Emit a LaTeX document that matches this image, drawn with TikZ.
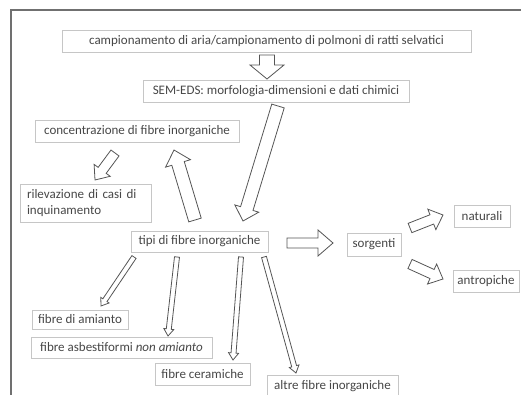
\documentclass[tikz,border=0pt]{standalone}
\usepackage{fontspec}
\setmainfont{Carlito}
\usetikzlibrary{calc}
\definecolor{txt}{HTML}{474747}
\definecolor{boxc}{HTML}{C6C6C6}
\definecolor{arrc}{HTML}{555555}
\definecolor{framec}{HTML}{707070}
\tikzset{
  box/.style={draw=boxc, line width=0.7pt, text=txt, inner sep=0pt,
    font=\fontsize{13}{16}\selectfont},
  arrowline/.style={draw=arrc, line width=0.8pt, line join=miter, fill=white},
}
% #1 start, #2 end, #3 shaft half width, #4 head half width, #5 head length
\newcommand\blockarr[5]{%
  \pgfpointdiff{\pgfpointanchor{#1}{center}}{\pgfpointanchor{#2}{center}}%
  \pgfgetlastxy\bdx\bdy
  \pgfmathsetmacro\barlen{veclen(\bdx,\bdy)}%
  \pgfmathsetmacro\barang{atan2(\bdy,\bdx)}%
  \pgfmathsetmacro\barbase{\barlen-#5}%
  \begin{scope}[shift={(#1)},rotate=\barang]
    \draw[arrowline] (0pt,-#3pt) -- (\barbase pt,-#3pt) -- (\barbase pt,-#4pt)
      -- (\barlen pt,0pt) -- (\barbase pt,#4pt) -- (\barbase pt,#3pt)
      -- (0pt,#3pt) -- cycle;
  \end{scope}}
\begin{document}
\begin{tikzpicture}[x=1pt,y=-1pt]
\useasboundingbox[fill=white] (0,0) rectangle (521,395);
% outer frame
\draw[framec, line width=2pt] (11,397) -- (11,10) -- (523,10);

% boxes
\node[box, minimum width=409pt, minimum height=22pt] (camp) at (266.5,41)
  {campionamento di aria/campionamento di polmoni di ratti selvatici};
\node[box, minimum width=266pt, minimum height=22pt] (sem) at (276,91)
  {SEM-EDS: morfologia-dimensioni e dati chimici};
\node[box, minimum width=204pt, minimum height=22pt] (conc) at (137,131)
  {concentrazione di fibre inorganiche};
\node[box, minimum width=131pt, minimum height=38pt, text width=117pt,
  inner xsep=7pt, align=left] (ril) at (85.5,203)
  {rilevazione di casi di\\inquinamento};
\node[box, minimum width=137pt, minimum height=21pt] (tipi) at (199.5,241.5)
  {tipi di fibre inorganiche};
\node[box, minimum width=54pt, minimum height=23pt] (sorg) at (374,244.5)
  {sorgenti};
\node[box, minimum width=56pt, minimum height=22pt] (nat) at (482,216)
  {naturali};
\node[box, minimum width=66pt, minimum height=22pt] (antr) at (486,281)
  {antropiche};
\node[box, minimum width=96pt, minimum height=19pt] (amia) at (80,319.5)
  {fibre di amianto};
\node[box, minimum width=181pt, minimum height=21pt] (asbe) at (121.5,347.5)
  {fibre asbestiformi \textit{non amianto}};
\node[box, minimum width=95pt, minimum height=22pt] (cera) at (202.5,374)
  {fibre ceramiche};
\node[box, minimum width=131pt, minimum height=23pt] (altr) at (332.5,386.5)
  {altre fibre inorganiche};

% arrow end points
\coordinate (c1s) at (267,55);  \coordinate (c1e) at (267,79);
\coordinate (c2s) at (278,106); \coordinate (c2e) at (243,221);
\coordinate (c3s) at (195,220); \coordinate (c3e) at (174,150);
\coordinate (c4s) at (115,153); \coordinate (c4e) at (95,180);
\coordinate (c5s) at (287,243); \coordinate (c5e) at (333,243);
\coordinate (c6s) at (410,228); \coordinate (c6e) at (443,215);
\coordinate (c7s) at (410,264); \coordinate (c7e) at (443,279);
\coordinate (c8s) at (134,257); \coordinate (c8e) at (101,306);
\coordinate (c9s) at (177,257); \coordinate (c9e) at (168,336);
\coordinate (c10s) at (241,257); \coordinate (c10e) at (233,360);
\coordinate (c11s) at (264,257); \coordinate (c11e) at (296,373);

% block arrows
\blockarr{c1s}{c1e}{7.5}{17}{14}
\blockarr{c2s}{c2e}{6.5}{12.5}{13}
\blockarr{c3s}{c3e}{6.5}{13}{14}
\blockarr{c4s}{c4e}{5}{10}{12}
\blockarr{c5s}{c5e}{5}{13}{15}
\blockarr{c6s}{c6e}{5}{11}{12}
\blockarr{c7s}{c7e}{5}{11}{12}
\blockarr{c8s}{c8e}{2.5}{5}{7}
\blockarr{c9s}{c9e}{2.5}{5}{7}
\blockarr{c10s}{c10e}{2.5}{5}{7}
\blockarr{c11s}{c11e}{2.5}{5}{7}
\end{tikzpicture}
\end{document}
